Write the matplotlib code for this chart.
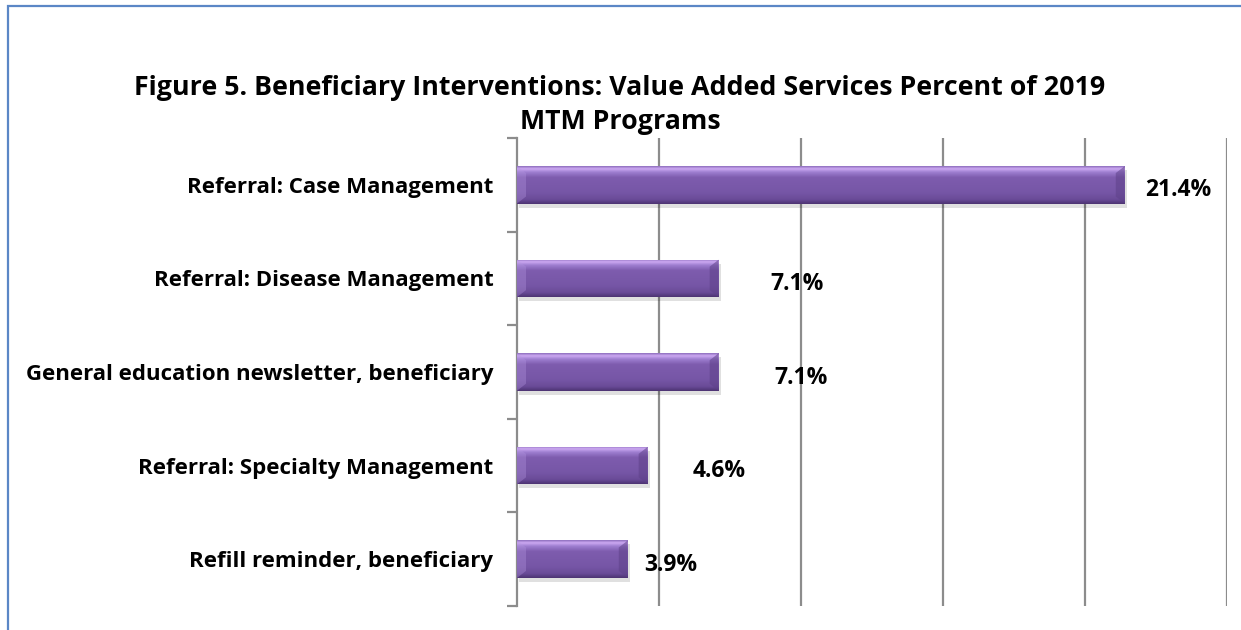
import numpy as np
import matplotlib
matplotlib.use("Agg")
import matplotlib.pyplot as plt
from matplotlib.colors import LinearSegmentedColormap
from matplotlib.patches import Rectangle, Polygon

categories = [
    "Referral: Case Management",
    "Referral: Disease Management",
    "General education newsletter, beneficiary",
    "Referral: Specialty Management",
    "Refill reminder, beneficiary",
]
values = [21.4, 7.1, 7.1, 4.6, 3.9]
value_labels = ["21.4%", "7.1%", "7.1%", "4.6%", "3.9%"]
label_pad_px = [20, 52, 56, 45, 16]
title = "Figure 5. Beneficiary Interventions: Value Added Services Percent of 2019\nMTM Programs"

W, H, DPI = 1241, 630, 100
fig = plt.figure(figsize=(W / DPI, H / DPI), dpi=DPI)
fig.patch.set_facecolor("white")

# figure border
fig.add_artist(Rectangle((8 / W, -0.1), 1.2, 1 - 6 / H + 0.1, transform=fig.transFigure,
                         fill=False, edgecolor="#5B87C6", linewidth=1.6))

FONT = "Open Sans"
ax = fig.add_axes([517 / W, 1 - 606 / H, (1227 - 517) / W, (606 - 138) / H])
ax.set_xlim(0, 25)
ax.set_ylim(4.5, -0.5)

px_x = 25 / (1227 - 517)
px_y = 5 / (606 - 138)

cmap = LinearSegmentedColormap.from_list("bev", [
    (0.0, "#8C6CBC"), (0.07, "#CDAAF2"), (0.16, "#9E7ED0"), (0.3, "#7E5CAE"),
    (0.7, "#7656A6"), (0.88, "#6A4B98"), (1.0, "#4C3372")])
grad = np.linspace(0, 1, 256).reshape(-1, 1)

bh = 0.4
for i, v in enumerate(values):
    top, bot = i - bh / 2, i + bh / 2
    sh = Rectangle((2 * px_x, top + 4 * px_y), v, bh, facecolor="#000000", alpha=0.12,
                   edgecolor="none", zorder=2)
    ax.add_patch(sh)
    rect = Rectangle((0, top), v, bh, facecolor="#7A5AA8", edgecolor="none", zorder=3)
    ax.add_patch(rect)
    im = ax.imshow(grad, cmap=cmap, aspect="auto", extent=[0, v, bot, top], zorder=3.1,
                   interpolation="bilinear")
    im.set_clip_path(rect)
    d = 9 * px_x
    e = 7 * px_y
    ax.add_patch(Polygon([(v - d, top + e), (v, top), (v, bot), (v - d, bot - e)],
                         closed=True, facecolor="#5E4189", alpha=0.55, edgecolor="none", zorder=3.2))
    ax.add_patch(Polygon([(0, top), (d, top + e), (d, bot - e), (0, bot)],
                         closed=True, facecolor="#B496E0", alpha=0.35, edgecolor="none", zorder=3.2))
    ax.annotate(value_labels[i], xy=(v, i), xytext=(label_pad_px[i] * 0.72, -4),
                textcoords="offset points", ha="left", va="center",
                fontsize=16.5, fontweight="bold", family=FONT, color="black", zorder=5)

ax.set_xticks([5, 10, 15, 20, 25])
ax.tick_params(axis="x", length=0, labelbottom=False)
ax.grid(axis="x", color="#8C8C8C", linewidth=1.6, zorder=1)
ax.set_axisbelow(True)

ax.set_yticks(np.arange(len(categories)))
ax.set_yticklabels(categories, fontsize=16, fontweight="bold", family=FONT)
ax.set_yticks(np.arange(-0.5, len(categories), 1.0), minor=True)
ax.tick_params(axis="y", which="major", length=0, pad=17)
ax.tick_params(axis="y", which="minor", length=7, width=1.6, color="#8C8C8C")

for s in ["top", "right", "bottom"]:
    ax.spines[s].set_visible(False)
ax.spines["left"].set_color("#8C8C8C")
ax.spines["left"].set_linewidth(1.6)

fig.text(620 / W, 1 - 105 / H, title, ha="center", va="center", fontsize=19.3,
         fontweight="bold", family=FONT, linespacing=1.38)

fig.savefig("out.png", dpi=DPI)
